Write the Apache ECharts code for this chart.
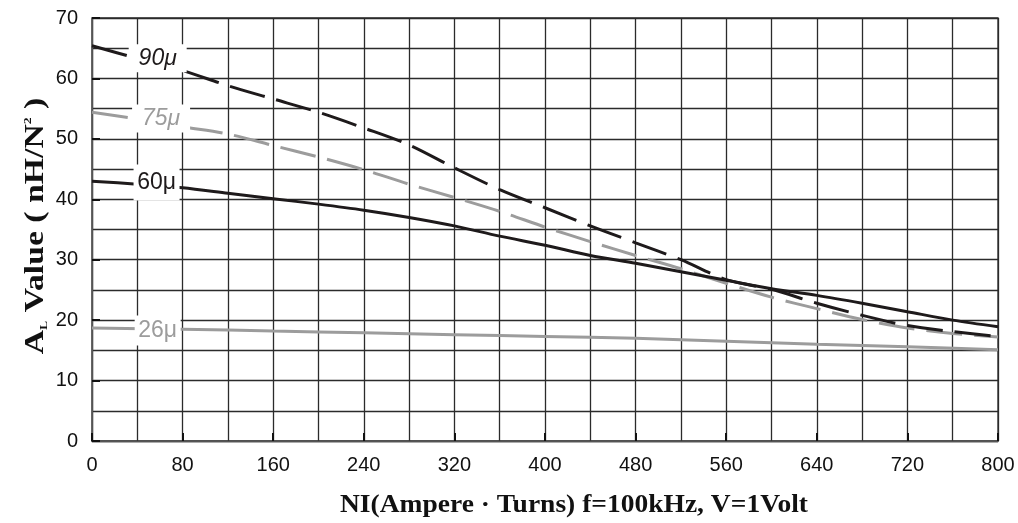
<!DOCTYPE html>
<html>
<head>
<meta charset="utf-8">
<script src="https://cdn.jsdelivr.net/npm/echarts@6/dist/echarts.min.js"></script>
<style>
html,body{margin:0;padding:0;background:#fff;}
#chart{width:1018px;height:523px;}
</style>
</head>
<body>
<div id="chart"></div>
<script>
// ---- data ----
var xTicks = [0, 80, 160, 240, 320, 400, 480, 560, 640, 720, 800];
var yTicks = [0, 10, 20, 30, 40, 50, 60, 70];
var ni40 = [0, 40, 80, 120, 160, 200, 240, 280, 320, 360, 400, 440, 480, 520, 560, 600, 640, 680, 720, 760, 800];
var mu90 = [65.4, 63.3, 61.3, 58.8, 56.6, 54.4, 51.8, 49.0, 45.2, 41.6, 38.6, 35.6, 32.8, 30.0, 26.7, 25.1, 22.8, 20.8, 19.1, 18.1, 17.3];
var mu75 = [54.4, 53.3, 52.0, 50.8, 48.9, 47.0, 44.9, 42.5, 40.3, 38.0, 35.4, 33.0, 30.7, 28.5, 26.1, 23.8, 21.9, 20.1, 18.7, 17.8, 17.2];
var mu60 = [43.0, 42.5, 41.9, 41.0, 40.1, 39.2, 38.2, 37.0, 35.6, 33.9, 32.4, 30.7, 29.4, 28.0, 26.6, 25.2, 24.1, 22.8, 21.4, 20.0, 18.9];
var ni80 = [0, 80, 160, 240, 320, 400, 480, 560, 640, 720, 800];
var mu26 = [18.7, 18.5, 18.2, 17.9, 17.6, 17.3, 17.0, 16.5, 16.0, 15.6, 15.1];
var seriesNames = ['90\u03bc', '75\u03bc', '60\u03bc', '26\u03bc'];
var labelAt = [[58, 62.5], [61, 52.7], [57, 42.3], [58, 18.6]];
var xTitle = 'NI(Ampere \u00b7 Turns) f=100kHz, V=1Volt';

function pairs(xs, ys){ return xs.map(function(x,i){ return [x, ys[i]]; }); }

var BLACK = '#1e1a1b';
var GRAY = '#9c9c9c';
var GRID = '#2b2b2b';
var SERIF = 'Liberation Serif, Times New Roman, serif';
var SANS = 'Liberation Sans, Arial, sans-serif';

function maskLabel(idx, color, italic, offY, w, h){
  return {
    silent: true,
    animation: false,
    z: 30,
    symbol: 'rect',
    symbolSize: [w, h],
    symbolOffset: [0, offY],
    itemStyle: {color: '#ffffff', borderWidth: 0},
    label: {
      show: true, position: 'inside', formatter: seriesNames[idx],
      color: color, fontSize: 23, fontStyle: italic ? 'italic' : 'normal',
      fontFamily: SANS
    },
    data: [{coord: labelAt[idx]}]
  };
}

var chart = echarts.init(document.getElementById('chart'), null, {renderer: 'canvas'});
var option = {
  animation: false,
  backgroundColor: '#ffffff',
  grid: {left: 92, right: 20, top: 18, bottom: 82, show: true, borderColor: GRID, borderWidth: 1.3, backgroundColor: 'transparent'},
  graphic: [
    {type: 'text', x: 574, y: 506, scaleX: 1.1, z: 10,
     style: {text: xTitle, fontFamily: SERIF, fontWeight: 'bold', fontSize: 25, fill: '#111', align: 'center', verticalAlign: 'middle'}},
    {type: 'text', x: 36, y: 226, rotation: Math.PI / 2, scaleX: 1.25, z: 10,
     style: {
       text: '{a|A}{s|L}{a| Value ( nH/N}{p|2}{a| )}',
       align: 'center', verticalAlign: 'middle', fill: '#111',
       rich: {
         a: {fontFamily: SERIF, fontWeight: 'bold', fontSize: 27, fill: '#111', verticalAlign: 'middle'},
         s: {fontFamily: SERIF, fontWeight: 'bold', fontSize: 11, fill: '#111', verticalAlign: 'bottom', padding: [12, 0, 0, 0]},
         p: {fontFamily: SERIF, fontWeight: 'bold', fontSize: 11, fill: '#111', verticalAlign: 'top', padding: [0, 0, 14, 0]}
       }
     }}
  ],
  xAxis: {
    type: 'value', min: xTicks[0], max: xTicks[xTicks.length-1], interval: 80,
    axisLine: {show: true, lineStyle: {color: '#555', width: 1.3}},
    axisTick: {show: true, inside: true, length: 8, lineStyle: {color: '#111', width: 2}},
    axisLabel: {fontSize: 20, color: '#111', margin: 14, fontFamily: SANS},
    splitLine: {show: true, lineStyle: {color: GRID, width: 1.3}},
    minorTick: {show: false, splitNumber: 2},
    minorSplitLine: {show: true, lineStyle: {color: GRID, width: 1.3}}
  },
  yAxis: {
    type: 'value', min: yTicks[0], max: yTicks[yTicks.length-1], interval: 10,
    axisLine: {show: true, lineStyle: {color: '#555', width: 1.3}},
    axisTick: {show: true, inside: true, length: 8, lineStyle: {color: '#111', width: 2}},
    axisLabel: {fontSize: 20, color: '#111', margin: 14, fontFamily: SANS},
    splitLine: {show: true, lineStyle: {color: GRID, width: 1.3}},
    minorTick: {show: false, splitNumber: 2},
    minorSplitLine: {show: true, lineStyle: {color: GRID, width: 1.3}}
  },
  series: [
    {name: seriesNames[0], type: 'line', smooth: 0.3, showSymbol: false, z: 5,
     data: pairs(ni40, mu90),
     lineStyle: {color: BLACK, width: 3, type: [36, 12]},
     markPoint: maskLabel(0, BLACK, true, -5, 58, 28)},
    {name: seriesNames[1], type: 'line', smooth: 0.3, showSymbol: false, z: 4,
     data: pairs(ni40, mu75),
     lineStyle: {color: GRAY, width: 3, type: [36, 12]},
     markPoint: maskLabel(1, GRAY, true, -4, 58, 28)},
    {name: seriesNames[2], type: 'line', smooth: 0.3, showSymbol: false, z: 6,
     data: pairs(ni40, mu60),
     lineStyle: {color: BLACK, width: 3},
     markPoint: maskLabel(2, BLACK, false, -3, 46, 36)},
    {name: seriesNames[3], type: 'line', smooth: 0.3, showSymbol: false, z: 4,
     data: pairs(ni80, mu26),
     lineStyle: {color: GRAY, width: 3},
     markPoint: maskLabel(3, GRAY, false, 2, 46, 30)}
  ]
};
chart.setOption(option);
</script>
</body>
</html>
